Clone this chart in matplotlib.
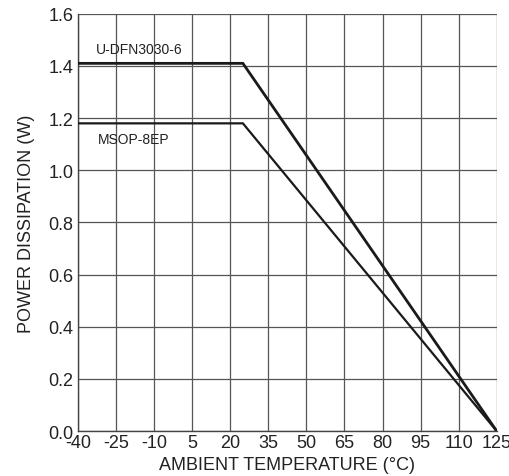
import matplotlib

matplotlib.use("Agg")
import matplotlib.pyplot as plt

plt.rcParams["font.family"] = ["Liberation Sans", "DejaVu Sans"]
plt.rcParams["axes.unicode_minus"] = False

# derating curves (ambient temperature in °C, power in W)
temp_dfn = [-40, 25, 125]
power_dfn = [1.41, 1.41, 0.0]
temp_msop = [-40, 25, 125]
power_msop = [1.18, 1.18, 0.0]

x_ticks = [-40, -25, -10, 5, 20, 35, 50, 65, 80, 95, 110, 125]
y_ticks = [0.0, 0.2, 0.4, 0.6, 0.8, 1.0, 1.2, 1.4, 1.6]

fig = plt.figure(figsize=(5.09, 4.77), dpi=100)
ax = fig.add_axes([0.153, 0.094, 0.823, 0.875])

ax.plot(temp_dfn, power_dfn, color="#1a1a1a", lw=2.0, solid_joinstyle="miter", zorder=3)
ax.plot(temp_msop, power_msop, color="#1a1a1a", lw=1.6, solid_joinstyle="miter", zorder=3)

ax.text(-33, 1.465, "U-DFN3030-6", fontsize=10, color="#222222", va="center")
ax.text(-32, 1.12, "MSOP-8EP", fontsize=10, color="#222222", va="center")

ax.set_xlim(-40, 125)
ax.set_ylim(0, 1.6)
ax.set_xticks(x_ticks)
ax.set_yticks(y_ticks)
ax.set_yticklabels([f"{v:.1f}" for v in y_ticks])
ax.tick_params(length=0, labelsize=13, colors="#222222", pad=3)
ax.tick_params(axis="x", pad=2)
ax.grid(True, color="#555555", lw=0.9)
for side in ["top", "right"]:
    ax.spines[side].set_visible(False)
for side in ["left", "bottom"]:
    ax.spines[side].set_color("#444444")
    ax.spines[side].set_linewidth(1.0)

ax.set_xlabel("AMBIENT TEMPERATURE (°C)", fontsize=13, color="#222222", labelpad=4)
ax.set_ylabel("POWER DISSIPATION (W)", fontsize=13, color="#222222", labelpad=10)

fig.savefig("out.png", dpi=100)
